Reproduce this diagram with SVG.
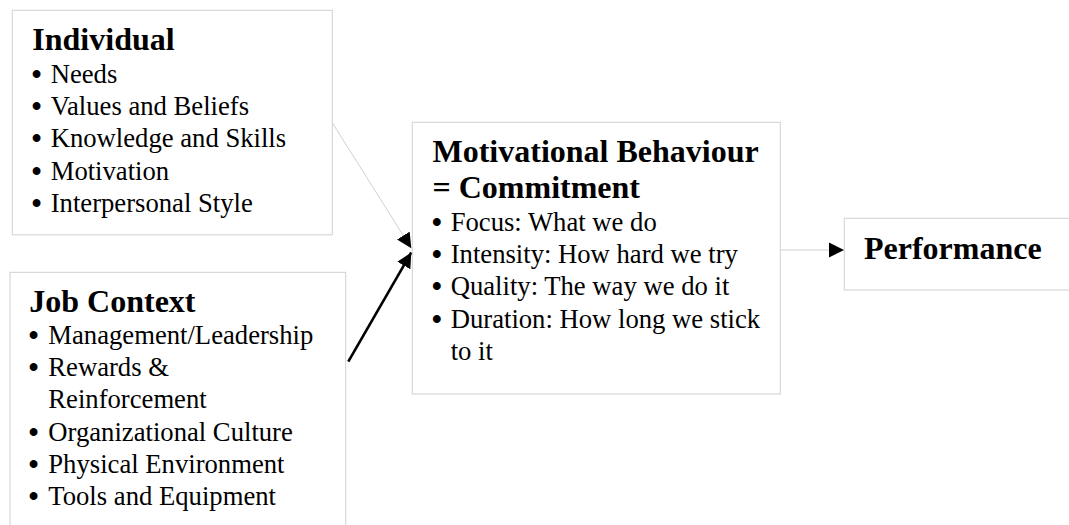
<svg xmlns="http://www.w3.org/2000/svg" width="1069" height="525" viewBox="0 0 1069 525">
<style>
.box{fill:#fff;stroke:#d0d0d0;stroke-width:1}
.t{font-family:"Liberation Serif","Times New Roman",serif;fill:#000}
.h{font-size:32px;font-weight:bold}
.i{font-size:26.67px}
.b{font-size:29px;font-weight:bold}
.thin{stroke:#c4c4c4;stroke-width:0.8;fill:none}
.thick{stroke:#000;stroke-width:2.6;fill:none}
</style>
<defs>
<marker id="ah" markerUnits="userSpaceOnUse" markerWidth="16" markerHeight="16" viewBox="0 0 16 16" refX="15" refY="8" orient="auto">
<path d="M0,0.5 L15,8 L0,15.5 Z" fill="#000"/>
</marker>
</defs>
<g id="connectors">
<line class="thin" x1="332.3" y1="122.7" x2="411.3" y2="248.3" marker-end="url(#ah)"/>
<line class="thick" x1="348.3" y1="361.7" x2="411.3" y2="252.5" marker-end="url(#ah)"/>
<line class="thin" x1="780.3" y1="250" x2="844" y2="250" marker-end="url(#ah)"/>
</g>
<g id="individual">
<rect class="box" x="12.3" y="10.3" width="320" height="224.5"/>
<text class="t h" x="32.3" y="50">Individual</text>
<g class="t i">
<text x="31.5" y="83.7"><tspan class="b">•</tspan><tspan x="50.7" dy="-1">Needs</tspan></text>
<text x="31.5" y="116"><tspan class="b">•</tspan><tspan x="50.7" dy="-1">Values and Beliefs</tspan></text>
<text x="31.5" y="148.3"><tspan class="b">•</tspan><tspan x="50.7" dy="-1">Knowledge and Skills</tspan></text>
<text x="31.5" y="180.7"><tspan class="b">•</tspan><tspan x="50.7" dy="-1">Motivation</tspan></text>
<text x="31.5" y="213"><tspan class="b">•</tspan><tspan x="50.7" dy="-1">Interpersonal Style</tspan></text>
</g>
</g>
<g id="job-context">
<rect class="box" x="10" y="272.3" width="335.7" height="260"/>
<text class="t h" x="29.3" y="311.7">Job Context</text>
<g class="t i">
<text x="28.5" y="345"><tspan class="b">•</tspan><tspan x="48.3" dy="-1">Management/Leadership</tspan></text>
<text x="28.5" y="377.2"><tspan class="b">•</tspan><tspan x="48.3" dy="-1">Rewards &amp;</tspan><tspan x="48.3" dy="32.2">Reinforcement</tspan></text>
<text x="28.5" y="441.6"><tspan class="b">•</tspan><tspan x="48.3" dy="-1">Organizational Culture</tspan></text>
<text x="28.5" y="473.8"><tspan class="b">•</tspan><tspan x="48.3" dy="-1">Physical Environment</tspan></text>
<text x="28.5" y="506"><tspan class="b">•</tspan><tspan x="48.3" dy="-1">Tools and Equipment</tspan></text>
</g>
</g>
<g id="motivational-behaviour">
<rect class="box" x="412.3" y="122.3" width="368" height="271.7"/>
<text class="t h" x="432.5" y="161.7">Motivational Behaviour</text>
<text class="t h" x="432.5" y="198">= Commitment</text>
<g class="t i">
<text x="431.7" y="231.7"><tspan class="b">•</tspan><tspan x="450.7" dy="-1">Focus: What we do</tspan></text>
<text x="431.7" y="264"><tspan class="b">•</tspan><tspan x="450.7" dy="-1">Intensity: How hard we try</tspan></text>
<text x="431.7" y="296.3"><tspan class="b">•</tspan><tspan x="450.7" dy="-1">Quality: The way we do it</tspan></text>
<text x="431.7" y="328.6"><tspan class="b">•</tspan><tspan x="450.7" dy="-1">Duration: How long we stick</tspan><tspan x="450.7" dy="32.3">to it</tspan></text>
</g>
</g>
<g id="performance">
<rect class="box" x="844.3" y="218.3" width="240" height="71.7"/>
<text class="t h" x="864" y="259.3">Performance</text>
</g>
</svg>
